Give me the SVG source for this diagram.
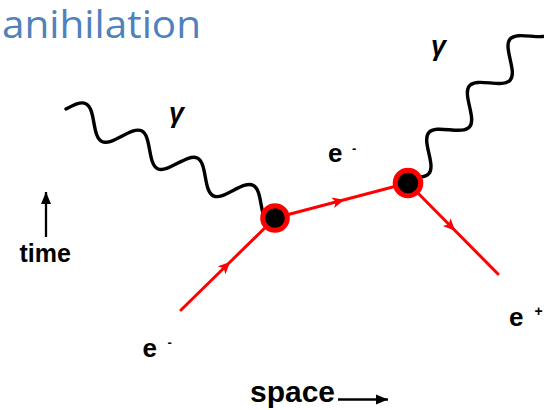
<svg xmlns="http://www.w3.org/2000/svg" width="544" height="410" viewBox="0 0 544 410">
<style>
.photon{fill:none;stroke:#000;stroke-width:3.4;stroke-linecap:round;stroke-linejoin:round}
.fermion{fill:none;stroke:#f00;stroke-width:3;stroke-linecap:round;marker-mid:url(#farrow)}
.vertex{fill:#000;stroke:#f00;stroke-width:5}
.lbl{font-family:"Liberation Sans",Arial,sans-serif;font-weight:bold;fill:#000}
.gam{font-family:"Liberation Sans",Arial,sans-serif;font-style:italic;font-weight:bold;fill:#000}
</style>
<defs>
<marker id="farrow" markerUnits="userSpaceOnUse" markerWidth="16" markerHeight="14" refX="-3" refY="0" viewBox="-14 -7 16 14" orient="auto" overflow="visible">
<path d="M0,0 L-12,-5.5 L-9,0 L-12,5.5 Z" fill="#f00"/>
</marker>
<marker id="karrow" markerUnits="userSpaceOnUse" markerWidth="14" markerHeight="12" refX="0" refY="0" viewBox="-13 -6 14 12" orient="auto" overflow="visible">
<path d="M0,0 L-12,-5 L-12,5 Z" fill="#000"/>
</marker>
</defs>

<text x="2" y="38" font-family="'Open Sans',sans-serif" font-size="38" fill="#4F81BD" textLength="199" lengthAdjust="spacingAndGlyphs">anihilation</text>

<g id="connectors">
<g id="photon-left" transform="translate(66,109) rotate(26)">
<path class="photon" d="M0,0 c5.05,-6.92 9.89,-13.5 15.5,-13.5 c5.61,0 10.45,6.58 15.5,13.5 c5.05,6.92 9.89,13.5 15.5,13.5 c5.61,0 10.45,-6.58 15.5,-13.5 c5.05,-6.92 9.89,-13.5 15.5,-13.5 c5.61,0 10.45,6.58 15.5,13.5 c5.05,6.92 9.89,13.5 15.5,13.5 c5.61,0 10.45,-6.58 15.5,-13.5 c5.05,-6.92 9.89,-13.5 15.5,-13.5 c5.61,0 10.45,6.58 15.5,13.5 c5.05,6.92 9.89,13.5 15.5,13.5 c5.61,0 10.45,-6.58 15.5,-13.5 c5.05,-6.92 9.89,-13.5 15.5,-13.5 c5.61,0 10.45,6.58 15.5,13.5 c5.05,6.92 9.89,13.5 15.5,13.5"/>
</g>
<g id="photon-right" transform="translate(408.5,176.5) rotate(-49)">
<path class="photon" d="M0,0 c5.05,6.92 9.89,13.5 15.5,13.5 c5.61,0 10.45,-6.58 15.5,-13.5 c5.05,-6.92 9.89,-13.5 15.5,-13.5 c5.61,0 10.45,6.58 15.5,13.5 c5.05,6.92 9.89,13.5 15.5,13.5 c5.61,0 10.45,-6.58 15.5,-13.5 c5.05,-6.92 9.89,-13.5 15.5,-13.5 c5.61,0 10.45,6.58 15.5,13.5 c5.05,6.92 9.89,13.5 15.5,13.5 c5.61,0 10.45,-6.58 15.5,-13.5 c5.05,-6.92 9.89,-13.5 15.5,-13.5 c5.61,0 10.45,6.58 15.5,13.5 c5.05,6.92 9.89,13.5 15.5,13.5 c5.61,0 10.45,-6.58 15.5,-13.5"/>
</g>
<path id="e-in" class="fermion" d="M181,310 L228,264 L275,218"/>
<path id="e-mid" class="fermion" d="M275,218 L341.5,200.5 L408,183"/>
<path id="e-out" class="fermion" d="M408,183 L453,228.5 L498,274"/>
<path id="time-arrow" d="M46,237 L46,192" stroke="#000" stroke-width="2.3" fill="none" marker-end="url(#karrow)"/>
<path id="space-arrow" d="M338,399.5 L388,399.5" stroke="#000" stroke-width="2.3" fill="none" marker-end="url(#karrow)"/>
</g>

<g id="vertex1"><circle class="vertex" cx="275" cy="218" r="12.3"/></g>
<g id="vertex2"><circle class="vertex" cx="408" cy="183" r="12.8"/></g>

<g id="labels">
<text class="gam" x="169" y="122" font-size="27">γ</text>
<text class="gam" x="431" y="55" font-size="27">γ</text>
<text class="lbl" x="328" y="162" font-size="26">e</text>
<text class="lbl" x="352" y="153" font-size="13">-</text>
<text class="lbl" x="142.5" y="357" font-size="26">e</text>
<text class="lbl" x="167.5" y="346.5" font-size="13">-</text>
<text class="lbl" x="509" y="325.5" font-size="26">e</text>
<text class="lbl" x="534.5" y="316" font-size="14">+</text>
<text class="lbl" x="19.5" y="261.5" font-size="25">time</text>
<text class="lbl" x="250" y="401.5" font-size="29" textLength="85" lengthAdjust="spacingAndGlyphs">space</text>
</g>
</svg>
